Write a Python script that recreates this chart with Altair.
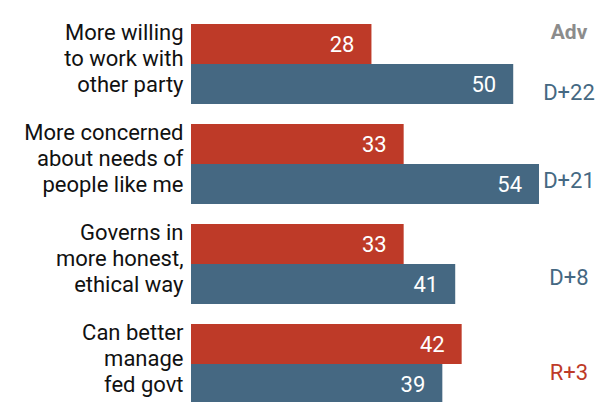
import altair as alt
import pandas as pd

categories = [
    "More willing\nto work with\nother party",
    "More concerned\nabout needs of\npeople like me",
    "Governs in\nmore honest,\nethical way",
    "Can better\nmanage\nfed govt",
]
parties = ["Rep", "Dem"]
rep_values = [28, 33, 33, 42]
dem_values = [50, 54, 41, 39]
adv_labels = ["D+22", "D+21", "D+8", "R+3"]
adv_party = ["Dem", "Dem", "Dem", "Rep"]
header = ["Adv"]

# layout: vertical nudges of the advantage labels (pixels)
adv_dy = [9, -3, -6, -11]

RED = "#BE3A28"
BLUE = "#456882"
FONT = "Roboto"

rows = []
for c, r, d in zip(categories, rep_values, dem_values):
    rows.append({"category": c, "party": "Rep", "value": r})
    rows.append({"category": c, "party": "Dem", "value": d})
bars_df = pd.DataFrame(rows)

adv_df = pd.DataFrame({
    "category": categories,
    "adv": adv_labels,
    "advparty": adv_party,
    "party": ["Dem"] * len(categories),
})

y_enc = alt.Y(
    "category:N",
    sort=categories,
    scale=alt.Scale(paddingInner=0.2, paddingOuter=0.1),
    axis=alt.Axis(
        title=None,
        domain=False,
        ticks=False,
        labelExpr="split(datum.label, '\\n')",
        labelFont=FONT,
        labelFontSize=22,
        labelLineHeight=26,
        labelColor="#111111",
        labelPadding=8,
        labelOffset=-31,
        labelAlign="right",
        labelBaseline="middle",
        labelLimit=300,
    ),
)
yoff = alt.YOffset("party:N", sort=parties, scale=alt.Scale(paddingInner=0, paddingOuter=0))
color_scale = alt.Scale(domain=parties, range=[RED, BLUE])
x_enc = alt.X("value:Q", scale=alt.Scale(domain=[0, 63]), axis=None)

bars = alt.Chart(bars_df).mark_bar().encode(
    y=y_enc,
    yOffset=yoff,
    x=x_enc,
    color=alt.Color("party:N", scale=color_scale, legend=None),
)

values = alt.Chart(bars_df).mark_text(
    align="right", baseline="middle", dx=-17, dy=1, font=FONT, fontSize=22, color="white"
).encode(
    y=alt.Y("category:N", sort=categories),
    yOffset=yoff,
    x=x_enc,
    text=alt.Text("value:Q"),
)

adv_layers = []
for cat, dy in zip(categories, adv_dy):
    adv_layers.append(
        alt.Chart(adv_df).transform_filter(
            alt.datum.category == cat
        ).mark_text(
            align="center", baseline="middle", dy=dy, font=FONT, fontSize=22
        ).encode(
            y=alt.Y("category:N", sort=categories),
            yOffset=yoff,
            x=alt.value(378),
            text="adv:N",
            color=alt.Color("advparty:N", scale=color_scale, legend=None),
        )
    )

head = alt.Chart(pd.DataFrame({"h": header})).mark_text(
    align="center", baseline="middle", font=FONT, fontSize=21, fontWeight="bold", color="#8C8C8C"
).encode(
    x=alt.value(378),
    y=alt.value(19),
    text="h:N",
)

chart = alt.layer(bars, values, *adv_layers, head).properties(
    width=406,
    height=400,
    autosize=alt.AutoSizeParams(type="none"),
    padding={"left": 183, "top": 6, "right": 0, "bottom": 0},
).configure_view(stroke=None)

chart.save("out.html", embed_options={"renderer": "svg", "actions": False})
